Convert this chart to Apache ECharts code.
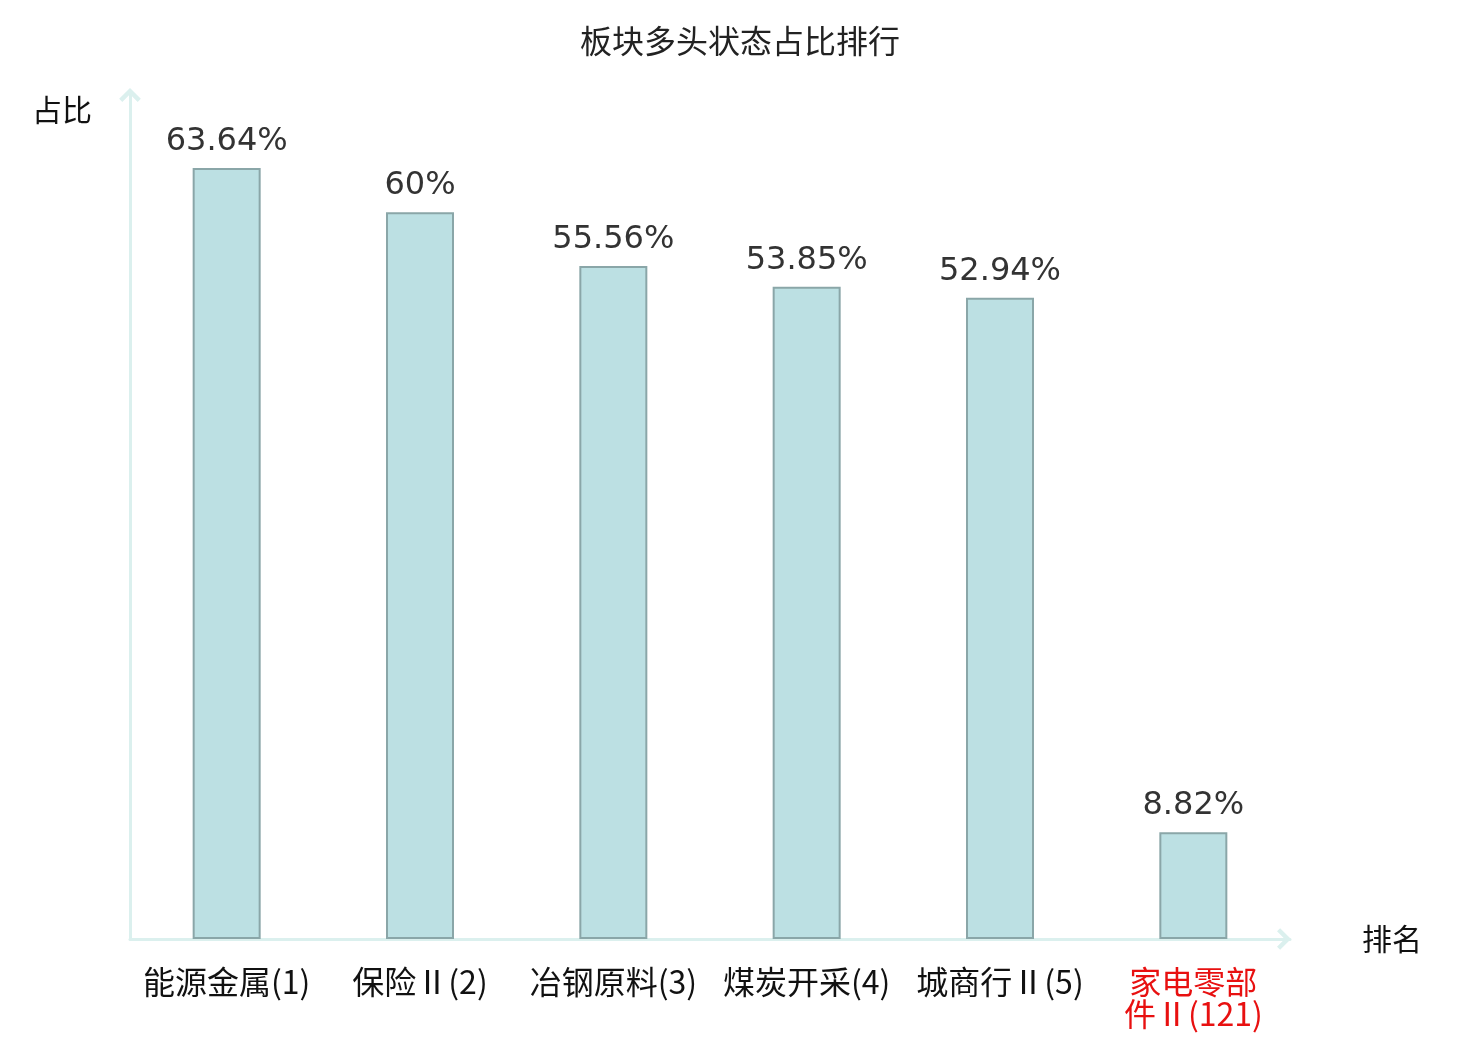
<!DOCTYPE html>
<html>
<head>
<meta charset="utf-8">
<script src="https://cdn.jsdelivr.net/npm/echarts@6/dist/echarts.min.js"></script>
<style>
html,body{margin:0;padding:0;background:#fff;}
#chart{width:1480px;height:1040px;}
</style>
</head>
<body>
<div id="chart"></div>
<script>
var titleText = '板块多头状态占比排行';
var categories = ['能源金属(1)', '保险Ⅱ(2)', '冶钢原料(3)', '煤炭开采(4)', '城商行Ⅱ(5)', '家电零部件Ⅱ(121)'];
var values = [63.64, 60, 55.56, 53.85, 52.94, 8.82];
var highlightIndex = 5;

var chart = echarts.init(document.getElementById('chart'));
var chevron = 'path://M0,12 L12,0 L24,12 L20.5,15.5 L12,7 L3.5,15.5 Z';
chart.setOption({
  backgroundColor: '#fff',
  animation: false,
  title: {
    text: titleText,
    left: 'center',
    top: 20,
    textStyle: { fontSize: 32, fontWeight: 'normal', color: '#222', fontFamily: 'Noto Sans CJK SC' }
  },
  grid: { left: 130, right: 190, top: 91, bottom: 101 },
  xAxis: {
    type: 'category',
    data: categories,
    name: '排名',
    nameLocation: 'end',
    nameGap: 72,
    nameTextStyle: { fontSize: 30, color: '#111', fontFamily: 'Noto Sans CJK SC', align: 'left', verticalAlign: 'middle', padding: [4, 0, 0, 0] },
    axisLine: { show: true, symbol: ['none', chevron], symbolSize: [24, 14], symbolOffset: [0, -6], lineStyle: { color: '#dbf0ee', width: 3 } },
    axisTick: { show: false },
    axisLabel: {
      interval: 0,
      margin: 27,
      fontSize: 32,
      lineHeight: 32,
      fontFamily: 'Noto Sans CJK SC',
      color: function (v, i) { return i === highlightIndex ? '#e81010' : '#111'; },
      formatter: function (v) { return v.length > 9 ? v.slice(0, 4) + '\n' + v.slice(4) : v; }
    }
  },
  yAxis: {
    type: 'value',
    min: 0,
    max: 70,
    name: '占比',
    nameLocation: 'end',
    nameGap: -4,
    nameTextStyle: { fontSize: 30, color: '#111', fontFamily: 'Noto Sans CJK SC', align: 'right', verticalAlign: 'top', padding: [0, 38, 0, 0] },
    axisLine: { show: true, symbol: ['none', chevron], symbolSize: [24, 14], symbolOffset: [0, -4], lineStyle: { color: '#dbf0ee', width: 3 } },
    axisTick: { show: false },
    axisLabel: { show: false },
    splitLine: { show: false }
  },
  series: [{
    type: 'bar',
    data: values,
    barWidth: 68,
    itemStyle: { color: '#bce0e3', borderColor: '#8aa6a8', borderWidth: 2 },
    label: {
      show: true,
      position: 'top',
      distance: 10,
      fontSize: 32,
      color: '#333',
      fontFamily: 'DejaVu Sans',
      formatter: function (p) { return p.value + '%'; }
    }
  }]
});
</script>
</body>
</html>
